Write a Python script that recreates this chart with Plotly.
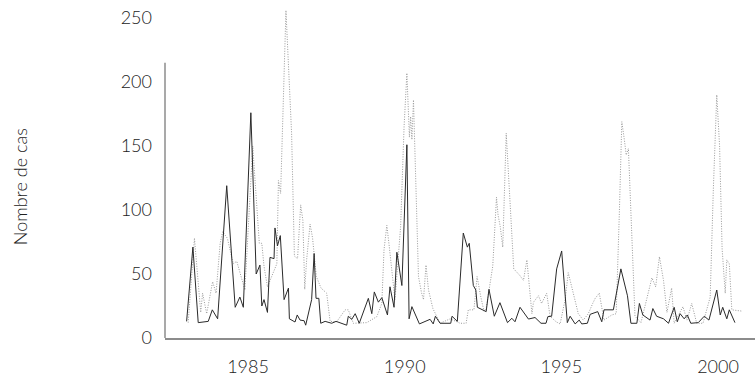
import plotly.graph_objects as go

# Series 1 (solid line): decimal year, number of cases
solid_years = [1983.04, 1983.24, 1983.41, 1983.73, 1983.86, 1984.03, 1984.32, 1984.59, 1984.74, 1984.85,
               1985.09, 1985.26, 1985.38, 1985.44, 1985.51, 1985.62, 1985.70, 1985.83, 1985.86, 1985.94,
               1986.03, 1986.15, 1986.29, 1986.32, 1986.50, 1986.57, 1986.66, 1986.79, 1986.84, 1987.03,
               1987.11, 1987.17, 1987.26, 1987.32, 1987.46, 1987.67, 1987.81, 1987.99, 1988.15, 1988.20,
               1988.31, 1988.42, 1988.55, 1988.84, 1988.95, 1989.03, 1989.16, 1989.27, 1989.45, 1989.53,
               1989.66, 1989.75, 1989.83, 1989.91, 1990.07, 1990.14, 1990.23, 1990.47, 1990.81, 1990.91,
               1990.98, 1991.13, 1991.47, 1991.51, 1991.68, 1991.87, 1992.00, 1992.06, 1992.19, 1992.27,
               1992.32, 1992.60, 1992.69, 1992.86, 1993.04, 1993.28, 1993.42, 1993.52, 1993.68, 1993.95,
               1994.16, 1994.35, 1994.51, 1994.57, 1994.69, 1994.85, 1995.01, 1995.19, 1995.28, 1995.44,
               1995.57, 1995.65, 1995.83, 1995.92, 1996.16, 1996.29, 1996.36, 1996.66, 1996.90, 1997.11,
               1997.22, 1997.41, 1997.49, 1997.60, 1997.83, 1997.92, 1998.04, 1998.26, 1998.42, 1998.60,
               1998.70, 1998.79, 1998.92, 1999.02, 1999.13, 1999.37, 1999.56, 1999.71, 1999.96, 2000.07,
               2000.15, 2000.28, 2000.36, 2000.54]
solid_cases = [13, 71, 12, 13, 22, 15, 119, 24, 32, 24,
               176, 50, 57, 25, 30, 20, 63, 62, 86, 72,
               80, 30, 39, 15, 12.5, 18, 14, 13.5, 10, 30,
               66, 31, 31, 11.5, 13, 11.5, 13, 11.5, 10, 17,
               14.6, 19, 11.5, 31, 19, 36, 28, 31.5, 18, 40,
               24, 67, 54, 41, 151, 15, 24.5, 11, 14.6, 11,
               17, 11.5, 11.5, 17, 13, 82, 71, 74, 41, 37.5,
               24, 20.6, 38, 17, 27.6, 12, 15.4, 12.7, 24, 14.8,
               16, 11.5, 11.5, 16.7, 17, 54, 68, 12, 17, 11,
               14, 11, 11.5, 18.5, 20.6, 12.7, 22, 22, 54, 33,
               11.5, 11.5, 27, 18, 14, 23, 17, 15, 11.5, 24,
               12.7, 19, 15, 18, 11.5, 12, 17, 14, 37.5, 18,
               24, 15, 22, 12]

# Series 2 (dotted line): decimal year, number of cases
dotted_years = [1983.09, 1983.29, 1983.49, 1983.55, 1983.68, 1983.87, 1983.98, 1984.11, 1984.19, 1984.34,
                1984.53, 1984.64, 1984.90, 1985.15, 1985.36, 1985.44, 1985.51, 1985.62, 1985.92, 1985.97,
                1986.04, 1986.21, 1986.39, 1986.48, 1986.58, 1986.68, 1986.75, 1986.81, 1986.87, 1986.98,
                1987.06, 1987.18, 1987.33, 1987.51, 1987.62, 1987.83, 1988.10, 1988.20, 1988.36, 1988.79,
                1989.11, 1989.27, 1989.34, 1989.43, 1989.51, 1989.62, 1989.69, 1989.87, 1989.98, 1990.07,
                1990.15, 1990.19, 1990.23, 1990.28, 1990.44, 1990.54, 1990.60, 1990.68, 1990.76, 1990.90,
                1991.13, 1991.45, 1991.77, 1991.96, 1992.03, 1992.21, 1992.31, 1992.43, 1992.53, 1992.60,
                1992.81, 1992.93, 1992.98, 1993.05, 1993.13, 1993.24, 1993.48, 1993.67, 1993.79, 1993.90,
                1994.06, 1994.11, 1994.27, 1994.37, 1994.53, 1994.64, 1994.83, 1994.96, 1995.12, 1995.22,
                1995.38, 1995.54, 1995.70, 1995.86, 1996.00, 1996.08, 1996.21, 1996.36, 1996.61, 1996.75,
                1996.85, 1996.93, 1997.01, 1997.07, 1997.14, 1997.35, 1997.54, 1997.89, 1998.01, 1998.13,
                1998.26, 1998.37, 1998.52, 1998.60, 1998.88, 1999.01, 1999.16, 1999.32, 1999.52, 1999.75,
                1999.85, 1999.96, 2000.05, 2000.13, 2000.23, 2000.28, 2000.36, 2000.44, 2000.76]
dotted_cases = [12, 78, 20, 35, 19, 44, 35, 74, 83, 78,
                58, 60, 37.5, 150, 74, 74, 56, 40, 58, 123,
                113, 256, 160, 64, 62, 104, 92, 38, 61, 89,
                78, 48, 39, 35, 13, 12.7, 22, 22, 11.5, 12,
                16.7, 27, 69, 88, 71, 48, 30, 87, 165, 207,
                157, 173, 155, 186, 48, 35, 30, 57, 37.5, 23,
                11.5, 15, 11.5, 11.5, 22, 22, 48, 32, 21, 23,
                56, 110, 96, 87, 71, 160, 54, 49, 45, 61,
                19, 28, 33, 27, 35, 17, 12.7, 11, 30, 51,
                36, 19, 14, 19, 27, 31, 35, 14, 18, 19,
                97, 169, 155, 143, 148, 17, 12, 47, 40, 63.5,
                45, 20, 39, 11.5, 24.5, 14, 27, 11.5, 11.5, 32,
                116, 190, 150, 70, 35, 61, 58, 22, 21]

x_tick_vals = [1985, 1990, 1995, 2000]
y_tick_vals = [0, 50, 100, 150, 200, 250]
y_title = "Nombre de cas"

FONT = "Lato"
TEXT = "#222222"
fig = go.Figure()
fig.add_trace(go.Scatter(x=dotted_years, y=dotted_cases, mode="lines",
                         line=dict(color="#9a9a9a", width=1, dash="1px,1.5px"),
                         showlegend=False, hoverinfo="x+y"))
fig.add_trace(go.Scatter(x=solid_years, y=solid_cases, mode="lines",
                         line=dict(color="#2a2a2a", width=1),
                         showlegend=False, hoverinfo="x+y"))

# left axis line (stops below the top of the plotting area, as in the source)
fig.add_shape(type="line", xref="paper", yref="y", x0=0, x1=0, y0=0, y1=215,
              line=dict(color="#8c8c8c", width=1.5), layer="above")

fig.add_annotation(text=y_title, xref="paper", yref="paper", x=-0.2458, y=0.456,
                   textangle=-90, showarrow=False, xanchor="center", yanchor="middle",
                   font=dict(family=FONT, size=18, color=TEXT, weight=300))

fig.update_layout(
    width=755, height=379,
    margin=dict(l=165, r=0, t=5, b=41),
    paper_bgcolor="white", plot_bgcolor="white",
    font=dict(family=FONT, color=TEXT),
    xaxis=dict(range=[1982.35, 2001.18], tickvals=x_tick_vals, showgrid=False, zeroline=False,
               showline=True, linecolor="#8c8c8c", linewidth=1.5, ticks="",
               ticklabelstandoff=12, tickfont=dict(family=FONT, size=18, color=TEXT, weight=300)),
    yaxis=dict(range=[0, 260.2], tickvals=y_tick_vals, showgrid=False, zeroline=False,
               showline=False, ticks="", ticklabelstandoff=12,
               tickfont=dict(family=FONT, size=18, color=TEXT, weight=300)),
)

fig.write_html("out.html", config={"displayModeBar": False},
               post_script="document.body.style.margin='0';document.body.style.padding='0';")
